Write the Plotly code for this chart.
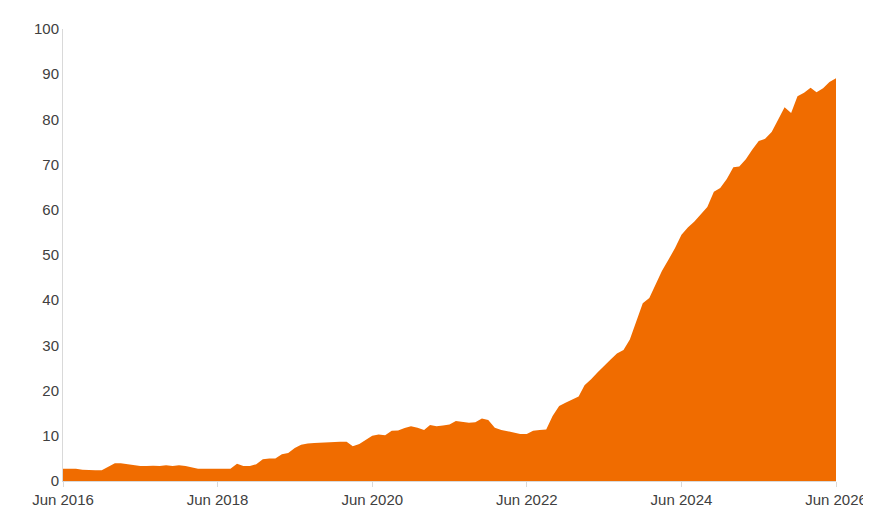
import pandas as pd
import plotly.graph_objects as go

values = [
    2.7,2.7,2.7,2.5,2.4,2.4,2.4,
    3.2,3.9,3.9,3.7,3.5,3.3,3.3,3.4,3.3,3.5,3.3,3.5,
    3.3,3.0,2.7,2.7,2.7,2.7,2.7,2.7,3.8,3.3,3.3,3.7,
    4.8,5.0,5.0,5.9,6.2,7.3,8.0,8.3,8.4,8.5,8.6,8.7,
    8.7,8.7,7.7,8.2,9.0,10.0,10.3,10.1,11.1,11.2,11.7,12.1,
    11.8,11.3,12.4,12.1,12.3,12.5,13.3,13.1,12.9,13.0,13.8,13.5,
    11.8,11.3,11.0,10.6,10.4,10.4,11.1,11.3,11.4,14.4,16.6,17.3,
    18.0,18.7,21.2,22.5,24,25.5,26.8,28.2,29,31.3,35.3,39.3,
    40.5,43.7,46.5,49,51.5,54.5,56.1,57.4,59,60.6,64,64.8,
    66.8,69.4,69.6,71.2,73.3,75.2,75.7,77.2,80,82.7,81.4,85.1,
    85.9,87,86,86.9,88.3,89.1,
]
dates = pd.date_range("2016-06-01", periods=len(values), freq="MS")
tick_vals = pd.date_range("2016-06-01", "2026-06-01", freq="24MS")
tick_text = [d.strftime("Jun %Y") for d in tick_vals]

fig = go.Figure(go.Scatter(
    x=dates, y=values, mode="lines", fill="tozeroy",
    line=dict(color="#F06C00", width=0), fillcolor="#F06C00",
))
font = dict(family="Liberation Sans, Arial, sans-serif", size=15, color="#404040")
fig.update_layout(
    width=871, height=512, margin=dict(l=55, r=43, t=16, b=37),
    plot_bgcolor="white", paper_bgcolor="white", showlegend=False, font=font,
    xaxis=dict(range=[dates[0], dates[-1]], tickvals=tick_vals, ticktext=tick_text,
               showgrid=False, showline=True, linecolor="#D9D9D9", linewidth=1,
               ticks="outside", tickcolor="#D9D9D9", ticklen=5, zeroline=False),
    yaxis=dict(range=[0, 100], dtick=10, showgrid=False, showline=True,
               linecolor="#D9D9D9", linewidth=1, ticks="", zeroline=False),
)
fig.write_html("out.html")
